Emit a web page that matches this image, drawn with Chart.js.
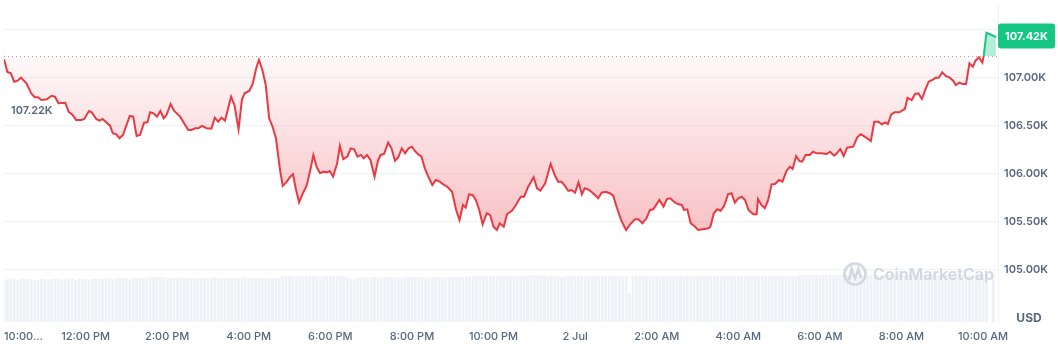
<!DOCTYPE html>
<html>
<head>
<meta charset="utf-8">
<script src="https://cdn.jsdelivr.net/npm/chart.js@4.4.1/dist/chart.umd.min.js"></script>
<style>
  html, body { margin: 0; padding: 0; background: #fff; }
  #wrap { width: 1058px; height: 354px; }
</style>
</head>
<body>
<div id="wrap"><canvas id="priceChart"></canvas></div>
<script>
// minutes since 10:00 AM (1 Jul) and BTC price in USD
const minutes = [
  0, 5, 10, 15, 20, 25, 33, 40, 45, 50,
  55, 63, 70, 75, 80, 90, 95, 101, 106, 114,
  118, 125, 129, 136, 141, 145, 152, 156, 160, 165,
  170, 175, 185, 190, 195, 200, 206, 211, 215, 220,
  225, 230, 235, 239, 245, 250, 259, 271, 276, 281,
  286, 291, 298, 305, 310, 315, 320, 325, 334, 339,
  345, 350, 354, 361, 366, 371, 375, 380, 385, 390,
  395, 400, 406, 410, 416, 421, 425, 429, 434, 440,
  445, 450, 455, 460, 465, 470, 475, 479, 484, 490,
  494, 499, 505, 510, 515, 520, 525, 529, 534, 539,
  545, 550, 554, 559, 565, 570, 575, 580, 585, 590,
  595, 600, 604, 609, 614, 619, 624, 630, 635, 641,
  646, 652, 659, 665, 670, 675, 679, 684, 689, 694,
  699, 704, 710, 715, 720, 725, 729, 735, 740, 747,
  753, 760, 765, 771, 779, 784, 789, 796, 804, 810,
  815, 820, 825, 830, 835, 840, 845, 850, 854, 859,
  864, 869, 874, 879, 885, 891, 896, 901, 908, 915,
  921, 928, 933, 939, 945, 950, 955, 964, 970, 975,
  980, 987, 992, 997, 1000, 1005, 1010, 1015, 1021, 1028,
  1036, 1039, 1044, 1049, 1054, 1059, 1065, 1070, 1075, 1080,
  1085, 1090, 1095, 1102, 1107, 1109, 1114, 1119, 1124, 1129,
  1134, 1140, 1145, 1151, 1156, 1160, 1165, 1170, 1174, 1179,
  1185, 1190, 1195, 1202, 1210, 1215, 1221, 1225, 1230, 1235,
  1240, 1249, 1255, 1260, 1266, 1275, 1280, 1286, 1291, 1296,
  1300, 1305, 1310, 1317, 1322, 1325, 1329, 1335, 1340, 1345,
  1350, 1355, 1360, 1367, 1370, 1375, 1380, 1385, 1391, 1396,
  1400, 1405, 1410, 1415, 1420, 1425, 1429, 1434, 1439, 1441,
  1445, 1459
];
const prices = [
  107188, 107055, 107041, 106954, 106965, 106996, 106937, 106833, 106792, 106792,
  106763, 106771, 106808, 106798, 106729, 106735, 106642, 106607, 106555, 106555,
  106566, 106649, 106635, 106563, 106548, 106566, 106521, 106496, 106417, 106406,
  106365, 106399, 106597, 106590, 106389, 106399, 106527, 106531, 106635, 106625,
  106590, 106649, 106573, 106607, 106722, 106652, 106590, 106451, 106451, 106469,
  106469, 106493, 106469, 106465, 106579, 106537, 106579, 106548, 106798, 106711,
  106458, 106771, 106833, 106860, 106937, 107094, 107180, 107076, 106920, 106573,
  106485, 106365, 106034, 105868, 105913, 105965, 105990, 105844, 105698, 105798,
  105868, 106017, 106191, 106063, 106000, 106017, 106010, 106024, 105965, 106104,
  106284, 106146, 106173, 106260, 106250, 106173, 106191, 106156, 106191, 106139,
  105965, 106131, 106191, 106201, 106319, 106260, 106131, 106167, 106260, 106208,
  106260, 106277, 106235, 106198, 106173, 106052, 105965, 105878, 105930, 105913,
  105885, 105860, 105808, 105618, 105513, 105670, 105642, 105781, 105774, 105722,
  105618, 105469, 105583, 105566, 105444, 105409, 105479, 105444, 105576, 105610,
  105670, 105756, 105756, 105860, 105958, 105844, 105819, 105896, 106097, 105982,
  105913, 105913, 105868, 105816, 105826, 105798, 105906, 105781, 105844, 105833,
  105808, 105774, 105740, 105798, 105808, 105792, 105767, 105652, 105506, 105409,
  105469, 105521, 105521, 105479, 105531, 105618, 105625, 105722, 105652, 105732,
  105740, 105694, 105677, 105670, 105618, 105625, 105479, 105454, 105409, 105417,
  105427, 105444, 105583, 105625, 105610, 105659, 105781, 105792, 105694, 105740,
  105756, 105722, 105618, 105573, 105573, 105732, 105670, 105635, 105722, 105885,
  105888, 105930, 105913, 106027, 106069, 106045, 106180, 106128, 106121, 106191,
  106191, 106225, 106208, 106208, 106201, 106225, 106183, 106208, 106253, 106180,
  106267, 106277, 106375, 106406, 106381, 106336, 106537, 106537, 106510, 106531,
  106513, 106614, 106635, 106635, 106659, 106670, 106787, 106763, 106826, 106833,
  106774, 106868, 106954, 106979, 106996, 106996, 107052, 107014, 106996, 106965,
  106920, 106944, 106930, 106930, 107146, 107110, 107173, 107208, 107152, 107222,
  107464, 107420
];
// relative volume, one bar every 5 minutes
const volStep = 5;
const volumes = [
  42, 43, 43, 43, 42, 43, 43, 43, 43, 42, 42, 43, 43, 42, 43, 43, 43, 42, 43, 43,
  43, 42, 43, 43, 43, 42, 43, 43, 43, 43, 44, 44, 43, 44, 44, 44, 44, 43, 44, 44,
  44, 44, 44, 45, 45, 45, 45, 45, 44, 44, 44, 44, 45, 44, 44, 44, 44, 44, 44, 44,
  44, 44, 45, 44, 44, 44, 44, 44, 44, 44, 44, 45, 44, 44, 44, 44, 44, 44, 44, 44,
  44, 44, 46, 46, 46, 46, 45, 46, 46, 46, 46, 46, 46, 45, 46, 46, 46, 46, 46, 46,
  46, 44, 43, 43, 44, 45, 45, 44, 45, 45, 45, 44, 45, 45, 45, 45, 45, 44, 45, 45,
  45, 45, 45, 45, 44, 45, 45, 45, 45, 45, 45, 45, 45, 45, 45, 45, 45, 46, 46, 46,
  46, 46, 46, 46, 46, 46, 46, 46, 46, 46, 46, 46, 46, 46, 46, 47, 47, 46, 47, 46,
  46, 46, 46, 46, 45, 46, 46, 46, 46, 46, 46, 46, 46, 46, 46, 46, 46, 46, 46, 46,
  46, 46, 46, 46, 29, 46, 46, 46, 46, 46, 46, 46, 46, 46, 46, 46, 46, 46, 46, 46,
  46, 46, 46, 46, 46, 46, 46, 46, 46, 46, 46, 46, 46, 46, 46, 46, 46, 46, 46, 46,
  46, 46, 46, 46, 46, 46, 46, 46, 46, 46, 46, 46, 46, 46, 47, 47, 47, 47, 47, 47,
  47, 47, 47, 47, 47, 47, 47, 47, 47, 47, 47, 46, 47, 47, 47, 47, 47, 47, 47, 47,
  47, 47, 47, 47, 47, 47, 47, 47, 47, 47, 47, 47, 47, 47, 47, 47, 47, 47, 47, 47,
  47, 47, 47, 47, 47, 47, 47, 47, 47, 47, 0, 49
];
const xTickMinutes = [0, 120, 240, 360, 480, 600, 720, 840, 960, 1080, 1200, 1320, 1440];
const xTickLabels = ['10:00...', '12:00 PM', '2:00 PM', '4:00 PM', '6:00 PM', '8:00 PM', '10:00 PM',
  '2 Jul', '2:00 AM', '4:00 AM', '6:00 AM', '8:00 AM', '10:00 AM'];
const yTickValues = [105000, 105500, 106000, 106500, 107000, 107500];
const openPrice = 107220;
const lastPrice = 107420;

const red = '#ea3943';
const green = '#16c784';
const gridColor = '#eff2f5';
const textColor = '#58667e';

const pricePoints = minutes.map((m, i) => ({ x: m, y: prices[i] }));
const volumePoints = volumes.map((v, i) => ({ x: i * volStep, y: v }));

function fillGradient(context) {
  const chart = context.chart;
  const area = chart.chartArea;
  if (!area) return 'rgba(0,0,0,0)';
  const y = chart.scales.y;
  const h = area.bottom - area.top;
  const clamp = v => Math.min(1, Math.max(0, v));
  const b = clamp((y.getPixelForValue(openPrice) - 0.6 - area.top) / h);
  const deep = clamp((y.getPixelForValue(105450) - area.top) / h);
  const g = chart.ctx.createLinearGradient(0, area.top, 0, area.bottom);
  g.addColorStop(0, 'rgba(22,199,132,0.32)');
  g.addColorStop(b, 'rgba(22,199,132,0.32)');
  g.addColorStop(b, 'rgba(234,57,67,0.03)');
  g.addColorStop(deep, 'rgba(234,57,67,0.3)');
  g.addColorStop(1, 'rgba(234,57,67,0.3)');
  return g;
}

// dotted open line, labels, price badge, watermark
const overlay = {
  id: 'overlay',
  afterDatasetsDraw(chart) {
    const { ctx, chartArea } = chart;
    const y = chart.scales.y;
    ctx.save();

    // watermark
    ctx.globalAlpha = 0.9;
    ctx.strokeStyle = '#cdd3dd';
    ctx.lineWidth = 2.6;
    ctx.beginPath();
    ctx.arc(855, 274, 10.5, 0, Math.PI * 2);
    ctx.stroke();
    ctx.beginPath();
    ctx.moveTo(849, 280);
    ctx.lineTo(851.5, 269);
    ctx.lineTo(855, 278);
    ctx.lineTo(858.5, 269);
    ctx.lineTo(861, 278);
    ctx.stroke();
    ctx.fillStyle = '#cdd3dd';
    ctx.font = '600 16px Inter';
    ctx.textBaseline = 'middle';
    ctx.textAlign = 'left';
    ctx.fillText('CoinMarketCap', 873, 275);
    ctx.globalAlpha = 1;

    // open price dotted line
    const yo = Math.round(y.getPixelForValue(openPrice)) + 0.5;
    ctx.strokeStyle = '#9aa2b1';
    ctx.lineWidth = 1;
    ctx.setLineDash([1, 3]);
    ctx.beginPath();
    ctx.moveTo(chartArea.left, yo);
    ctx.lineTo(chartArea.right, yo);
    ctx.stroke();
    ctx.setLineDash([]);

    ctx.fillStyle = textColor;
    ctx.font = '600 11px Inter';
    ctx.fillText((openPrice / 1000).toFixed(2) + 'K', 11, 111);

    // last price badge
    const yl = y.getPixelForValue(lastPrice) - 1;
    const bx = chartArea.right, bw = 57, bh = 25;
    ctx.fillStyle = green;
    ctx.beginPath();
    ctx.roundRect(bx, yl - bh / 2, bw, bh, 3);
    ctx.fill();
    ctx.fillStyle = '#fff';
    ctx.font = '700 11px Inter';
    ctx.textAlign = 'center';
    ctx.fillText((lastPrice / 1000).toFixed(2) + 'K', bx + bw / 2, yl + 0.5);

    // currency
    ctx.fillStyle = textColor;
    ctx.font = '700 12px Inter';
    ctx.fillText('USD', (y.left + y.right) / 2 + 1, 318);
    ctx.restore();
  }
};

new Chart(document.getElementById('priceChart'), {
  type: 'line',
  data: {
    datasets: [{
      type: 'line',
      data: pricePoints,
      yAxisID: 'y',
      borderColor: red,
      borderWidth: 2,
      pointRadius: 0,
      tension: 0,
      fill: { target: { value: openPrice } },
      backgroundColor: fillGradient,
      segment: {
        borderColor: ctx => ctx.p0.parsed.y >= openPrice ? green : red
      },
      order: 1
    }, {
      type: 'bar',
      data: volumePoints,
      yAxisID: 'yVol',
      backgroundColor: '#eef1f5',
      borderWidth: 0,
      barPercentage: 1,
      categoryPercentage: 0.8,
      order: 2
    }]
  },
  options: {
    responsive: true,
    maintainAspectRatio: false,
    animation: false,
    events: [],
    layout: { padding: { left: 4, top: 5, right: 0, bottom: 0 } },
    scales: {
      x: {
        type: 'linear',
        min: 0,
        max: 1462,
        offset: false,
        afterBuildTicks: scale => {
          scale.ticks = xTickMinutes.map(v => ({ value: v })).concat([{ value: 1462 }]);
        },
        afterFit: scale => {
          scale.height = 32;
          scale.paddingLeft = 0;
          scale.paddingRight = 0;
        },
        ticks: {
          autoSkip: false,
          maxRotation: 0,
          align: 'inner',
          padding: 8,
          color: textColor,
          font: { family: 'Inter', size: 11, weight: 500 },
          callback: (value, index) => xTickLabels[index] || ''
        },
        grid: {
          drawTicks: false,
          color: ctx => (ctx.tick && ctx.tick.value === 0) ? gridColor : 'rgba(0,0,0,0)'
        },
        border: { display: false }
      },
      y: {
        position: 'right',
        min: 104451,
        max: 107753,
        afterBuildTicks: scale => {
          scale.ticks = yTickValues.map(v => ({ value: v }));
        },
        afterFit: scale => {
          scale.width = 60;
          scale.paddingTop = 0;
          scale.paddingBottom = 0;
        },
        ticks: {
          padding: 6,
          crossAlign: 'near',
          color: textColor,
          font: { family: 'Inter', size: 11, weight: 600 },
          callback: v => v === 107500 ? '' : (v / 1000).toFixed(2) + 'K'
        },
        grid: { drawTicks: false, color: gridColor },
        border: { display: true, color: gridColor }
      },
      yVol: {
        display: false,
        min: 0,
        max: 317
      }
    },
    plugins: {
      legend: { display: false },
      tooltip: { enabled: false }
    }
  },
  plugins: [overlay]
});
</script>
</body>
</html>
